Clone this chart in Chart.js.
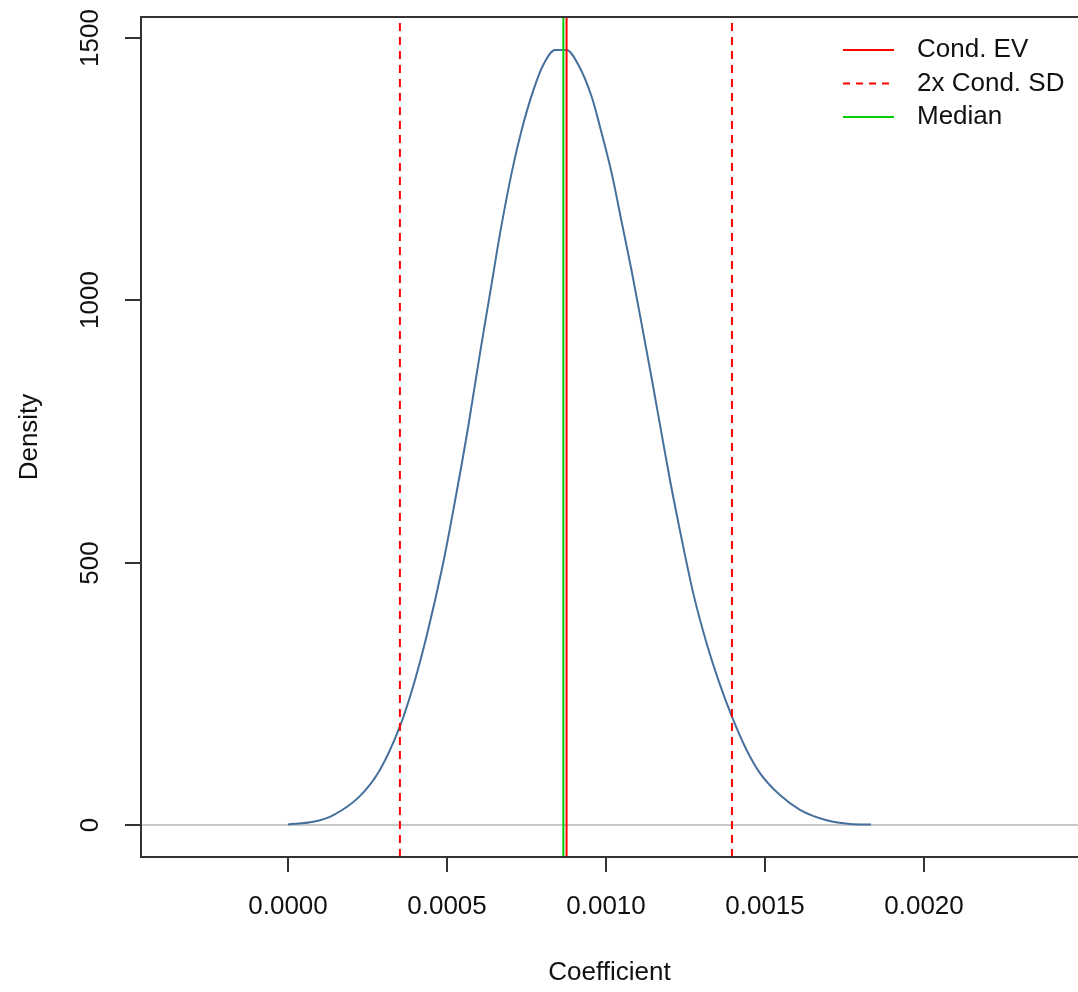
<!DOCTYPE html>
<html>
<head>
<meta charset="utf-8">
<script src="https://cdn.jsdelivr.net/npm/chart.js@4/dist/chart.umd.min.js"></script>
<style>
  html, body { margin: 0; padding: 0; background: #fff; }
  #wrap { width: 1078px; height: 992px; position: relative; }
</style>
</head>
<body>
<div id="wrap"><canvas id="graph"></canvas></div>
<script>
// =========================== Data
const coefX = [0.0000, 0.0000795, 0.000143, 0.000226, 0.000289, 0.000352, 0.000394, 0.000436, 0.000488,
    0.000520, 0.000567, 0.000604, 0.000640, 0.000667, 0.000703, 0.000735, 0.000772, 0.000803,
    0.000840, 0.000876, 0.000913, 0.000955, 0.000981, 0.001018, 0.001049, 0.001081, 0.001112, 0.001144,
    0.001175, 0.001201, 0.001243, 0.001275, 0.001317, 0.001358, 0.001395, 0.001442, 0.001484, 0.001547,
    0.001610, 0.001694, 0.001767, 0.001833]
const density = [1, 6, 19, 55, 105, 188, 265, 360, 499,
    600, 760, 900, 1030, 1128, 1242, 1325, 1401, 1449,
    1477, 1477, 1449, 1388, 1331, 1242, 1150, 1055, 955, 850,
    745, 658, 530, 440, 345, 268, 208, 143, 99, 57,
    29, 9, 2, 1]

const condEV = 0.000876
const medianVal = 0.000866
const sdBounds = [0.000352, 0.001396]

const xTicks = [0, 0.0005, 0.0010, 0.0015, 0.0020]
const xTickLabels = ['0.0000', '0.0005', '0.0010', '0.0015', '0.0020']
const yTicks = [0, 500, 1000, 1500]
const yTickLabels = ['0', '500', '1000', '1500']

const xRange = [-0.000462, 0.002484]
const yRange = [-61, 1540]

const legendLabels = ['Cond. EV', '2x Cond. SD', 'Median']
const legendColors = ['#ff0000', '#ff0000', '#00cd00']
const legendDash = [[], [7, 6], []]

const FONT = '"Liberation Sans", Arial, sans-serif'

// =========================== Helpers
function pts(xs, ys){
    return xs.map((x, i) => ({x: x, y: ys[i]}))
}
function vline(v){
    return [{x: v, y: yRange[0]}, {x: v, y: yRange[1]}]
}

// R style axes, box and legend
const rAxes = {
    id: 'rAxes',
    afterDraw(chart){
        const ctx = chart.ctx
        const a = chart.chartArea
        const xs = chart.scales.x
        const ys = chart.scales.y
        ctx.save()
        ctx.strokeStyle = '#333'
        ctx.lineWidth = 2
        ctx.beginPath()
        ctx.moveTo(a.right + 2, a.top)
        ctx.lineTo(a.left, a.top)
        ctx.lineTo(a.left, a.bottom)
        ctx.lineTo(a.right + 2, a.bottom)
        ctx.stroke()

        ctx.fillStyle = '#111'
        ctx.font = '26px ' + FONT
        // x ticks
        ctx.textAlign = 'center'
        ctx.textBaseline = 'middle'
        xTicks.forEach((t, i) => {
            const px = Math.round(xs.getPixelForValue(t))
            ctx.beginPath()
            ctx.moveTo(px, a.bottom)
            ctx.lineTo(px, a.bottom + 15)
            ctx.stroke()
            ctx.fillText(xTickLabels[i], px, a.bottom + 50)
        })
        // y ticks
        yTicks.forEach((t, i) => {
            const py = Math.round(ys.getPixelForValue(t))
            ctx.beginPath()
            ctx.moveTo(a.left, py)
            ctx.lineTo(a.left - 16, py)
            ctx.stroke()
            ctx.save()
            ctx.translate(a.left - 50, py)
            ctx.rotate(-Math.PI / 2)
            ctx.fillText(yTickLabels[i], 0, 0)
            ctx.restore()
        })
        // titles
        ctx.fillText('Coefficient', (a.left + a.right) / 2, a.bottom + 116)
        ctx.save()
        ctx.translate(30, (a.top + a.bottom) / 2)
        ctx.rotate(-Math.PI / 2)
        ctx.fillText('Density', 0, 0)
        ctx.restore()

        // legend
        ctx.textAlign = 'left'
        legendLabels.forEach((lab, i) => {
            const ly = a.top + 33 + i * 33.5
            ctx.strokeStyle = legendColors[i]
            ctx.lineWidth = 2
            ctx.setLineDash(legendDash[i])
            ctx.beginPath()
            ctx.moveTo(843, ly)
            ctx.lineTo(894, ly)
            ctx.stroke()
            ctx.setLineDash([])
            ctx.fillText(lab, 917, ly)
        })
        ctx.restore()
    }
}

// =========================== Chart
function dash(){
    const cv = document.getElementById('graph')
    new Chart(cv, {
        type: 'scatter',
        data: {
            datasets: [{
                label: 'Median',
                data: vline(medianVal),
                showLine: true,
                borderColor: '#00cd00',
                borderWidth: 2,
                pointRadius: 0,
            },{
                label: 'Cond. EV',
                data: vline(condEV),
                showLine: true,
                borderColor: '#ff0000',
                borderWidth: 2,
                pointRadius: 0,
            },{
                label: 'SD low',
                data: vline(sdBounds[0]),
                showLine: true,
                borderColor: '#ff0000',
                borderWidth: 2,
                borderDash: [8, 6],
                pointRadius: 0,
            },{
                label: 'SD high',
                data: vline(sdBounds[1]),
                showLine: true,
                borderColor: '#ff0000',
                borderWidth: 2,
                borderDash: [8, 6],
                pointRadius: 0,
            },{
                label: 'Density',
                data: pts(coefX, density),
                showLine: true,
                borderColor: '#46709c',
                borderWidth: 2,
                cubicInterpolationMode: 'monotone',
                pointRadius: 0,
            },{
                label: 'zero',
                data: [{x: xRange[0], y: 0}, {x: xRange[1], y: 0}],
                showLine: true,
                borderColor: '#c8c8c8',
                borderWidth: 2,
                pointRadius: 0,
            }]
        },
        options: {
            responsive: true,
            maintainAspectRatio: false,
            animation: false,
            layout: {
                padding: {left: 141, top: 17, right: 0, bottom: 135}
            },
            scales: {
                x: {
                    type: 'linear',
                    display: false,
                    min: xRange[0],
                    max: xRange[1],
                },
                y: {
                    type: 'linear',
                    display: false,
                    min: yRange[0],
                    max: yRange[1],
                }
            },
            plugins: {
                legend: {display: false},
                tooltip: {enabled: false},
            },
        },
        plugins: [rAxes]
    })
}

dash()
</script>
</body>
</html>
